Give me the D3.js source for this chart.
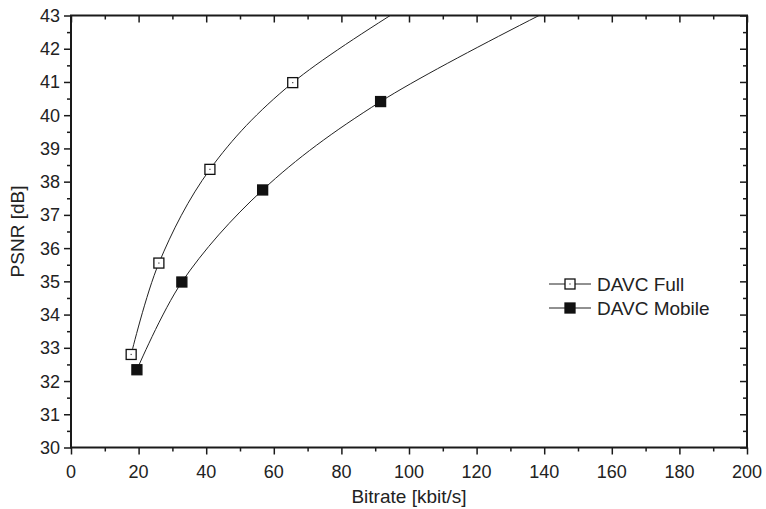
<!DOCTYPE html>
<html>
	<head>
		<meta charset="utf-8">
		<script src="https://d3js.org/d3.v7.min.js"></script>
		<style>
			body {
				margin: 0;
				background-color: white;
			}

			svg {
				display: block;
				font-family: "Liberation Sans", Arial, sans-serif;
			}
		</style>
	</head>
	<body>
		<svg width="766" height="509"></svg>
		<script>
			// values (last point of each series lies above the top of the axis)
			var fullBitrate = [17.8, 26.0, 41.1, 65.6, 125]
			var fullPsnr = [32.80, 35.55, 38.37, 40.98, 44.9]
			var mobileBitrate = [19.5, 32.8, 56.7, 91.6, 165]
			var mobilePsnr = [32.34, 34.98, 37.75, 40.41, 44.35]
			var seriesNames = ['DAVC Full', 'DAVC Mobile']
			var xTicks = [0, 20, 40, 60, 80, 100, 120, 140, 160, 180, 200]
			var yTicks = [30, 31, 32, 33, 34, 35, 36, 37, 38, 39, 40, 41, 42, 43]

			var margin = { left: 71, right: 19, top: 15.5, bottom: 61.5 }
			var width = 766 - margin.left - margin.right
			var height = 509 - margin.top - margin.bottom

			var svg = d3.select("svg")
			var g = svg.append("g")
				.attr("transform", "translate(" + margin.left + "," + margin.top + ")")

			var x = d3.scaleLinear().domain([0, 200]).range([0, width])
			var y = d3.scaleLinear().domain([30, 43]).range([height, 0])

			var xMinor = d3.range(10, 200, 20)
			var yMinor = d3.range(30.5, 43, 1)

			svg.append("defs").append("clipPath")
				.attr("id", "plot")
				.append("rect")
				.attr("width", width)
				.attr("height", height)

			function axisLines(axis, len) {
				return function(sel) {
					sel.call(axis.tickSize(len).tickFormat(''))
					sel.select(".domain").remove()
					sel.selectAll("line").attr("stroke", "#1a1a1a").attr("stroke-width", 1.5)
				}
			}

			// bottom axis, ticks outward
			g.append("g")
				.attr("transform", "translate(0," + height + ")")
				.call(axisLines(d3.axisBottom(x).tickValues(xTicks), 7))
			g.append("g")
				.attr("transform", "translate(0," + height + ")")
				.call(axisLines(d3.axisBottom(x).tickValues(xMinor), 4))
			// top axis, ticks inward
			g.append("g")
				.call(axisLines(d3.axisBottom(x).tickValues(xTicks), 7))
			g.append("g")
				.call(axisLines(d3.axisBottom(x).tickValues(xMinor), 4))
			// left axis, ticks outward
			g.append("g")
				.call(axisLines(d3.axisLeft(y).tickValues(yTicks), 7))
			g.append("g")
				.call(axisLines(d3.axisLeft(y).tickValues(yMinor), 4))
			// right axis, ticks inward
			g.append("g")
				.attr("transform", "translate(" + width + ",0)")
				.call(axisLines(d3.axisLeft(y).tickValues(yTicks), 7))
			g.append("g")
				.attr("transform", "translate(" + width + ",0)")
				.call(axisLines(d3.axisLeft(y).tickValues(yMinor), 4))

			g.append("rect")
				.attr("width", width)
				.attr("height", height)
				.attr("fill", "none")
				.attr("stroke", "#1a1a1a")
				.attr("stroke-width", 2)

			// tick labels
			g.selectAll(".xlab")
				.data(xTicks)
				.enter()
				.append("text")
				.attr("x", d => x(d))
				.attr("y", height + 30)
				.attr("text-anchor", "middle")
				.attr("font-size", 18)
				.attr("fill", "#222")
				.text(d => d)

			g.selectAll(".ylab")
				.data(yTicks)
				.enter()
				.append("text")
				.attr("x", -11)
				.attr("y", d => y(d))
				.attr("dy", "0.36em")
				.attr("text-anchor", "end")
				.attr("font-size", 18)
				.attr("fill", "#222")
				.text(d => d)

			svg.append("text")
				.attr("x", margin.left + width / 2)
				.attr("y", 503)
				.attr("text-anchor", "middle")
				.attr("font-size", 19)
				.attr("fill", "#222")
				.text("Bitrate [kbit/s]")

			svg.append("text")
				.attr("transform", "translate(24," + (margin.top + height / 2) + ") rotate(-90)")
				.attr("text-anchor", "middle")
				.attr("font-size", 19)
				.attr("fill", "#222")
				.text("PSNR [dB]")

			// series
			var series = [
				{ name: seriesNames[0], pts: fullBitrate.map((b, i) => [b, fullPsnr[i]]), filled: false },
				{ name: seriesNames[1], pts: mobileBitrate.map((b, i) => [b, mobilePsnr[i]]), filled: true }
			]

			var line = d3.line()
				.x(d => x(d[0]))
				.y(d => y(d[1]))
				.curve(d3.curveCatmullRom.alpha(0.5))

			var plot = g.append("g").attr("clip-path", "url(#plot)")

			function marker(sel, filled) {
				sel.append("rect")
					.attr("x", -5)
					.attr("y", -5)
					.attr("width", 10)
					.attr("height", 10)
					.attr("fill", filled ? "#111" : "white")
					.attr("stroke", "#111")
					.attr("stroke-width", 1.3)
				if(!filled) {
					sel.append("rect")
						.attr("x", -0.6)
						.attr("y", -0.6)
						.attr("width", 1.2)
						.attr("height", 1.2)
						.attr("fill", "#444")
				}
			}

			series.forEach(s => {
				plot.append("path")
					.attr("d", line(s.pts))
					.attr("fill", "none")
					.attr("stroke", "#222")
					.attr("stroke-width", 1)

				plot.selectAll(null)
					.data(s.pts.filter(d => d[1] <= 43))
					.enter()
					.append("g")
					.attr("transform", d => "translate(" + x(d[0]) + "," + y(d[1]) + ")")
					.each(function() { marker(d3.select(this), s.filled) })
			})

			// legend
			var legend = svg.append("g").attr("transform", "translate(549,284)")
			series.forEach((s, i) => {
				var row = legend.append("g").attr("transform", "translate(0," + (i * 24) + ")")
				row.append("line")
					.attr("x1", 0)
					.attr("x2", 42)
					.attr("stroke", "#222")
					.attr("stroke-width", 1)
				var m = row.append("g").attr("transform", "translate(21,0)")
				marker(m, s.filled)
				row.append("text")
					.attr("x", 48)
					.attr("dy", "0.36em")
					.attr("font-size", 19)
					.attr("fill", "#222")
					.text(s.name)
			})
		</script>
	</body>
</html>
